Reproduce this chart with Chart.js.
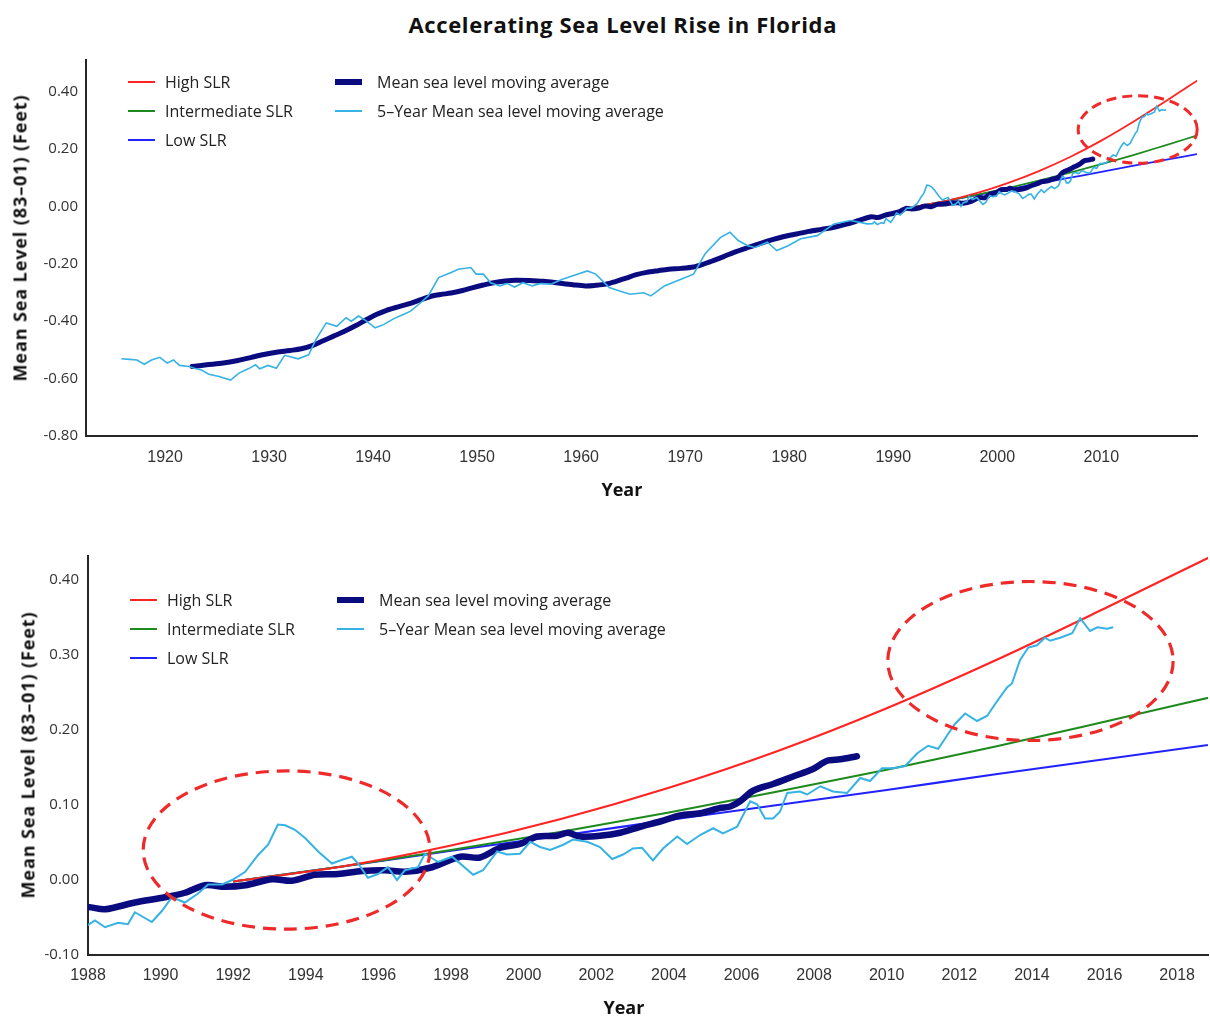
<!DOCTYPE html>
<html>
<head>
<meta charset="utf-8">
<script src="https://cdn.jsdelivr.net/npm/chart.js@4.4.1/dist/chart.umd.min.js"></script>
<style>
  html, body { margin:0; padding:0; background:#fff; }
  body { width:1210px; height:1017px; position:relative; overflow:hidden; font-family:'Open Sans', sans-serif; }
  .txt { position:absolute; white-space:nowrap; color:#111; }
  .wrap { position:absolute; left:0; width:1210px; }
  .lg-item { position:absolute; height:20px; white-space:nowrap; font-family:'Open Sans', sans-serif; font-size:16px; line-height:20px; color:#222; }
  .lg-sw { position:absolute; left:0; width:27px; }
  .lg-tx { position:absolute; top:0; }
</style>
</head>
<body>
<div class="wrap" style="top:40px;height:470px"><canvas id="c1" width="1210" height="470"></canvas></div>
<div class="wrap" style="top:520px;height:497px"><canvas id="c2" width="1210" height="497"></canvas></div>
<div id="texts"></div>
<div id="leg1"></div>
<div id="leg2"></div>
<script>
// ---------------- DATA ----------------
const chartTitle = 'Accelerating Sea Level Rise in Florida';
const xAxisTitle = 'Year';
const yAxisTitle = 'Mean Sea Level (83\u201301) (Feet)';
const seriesNames = ['High SLR', 'Intermediate SLR', 'Low SLR', 'Mean sea level moving average', '5\u2013Year Mean sea level moving average'];
const seriesColors = ['#ff2424', '#1e8a1e', '#2222ff', '#0b0b80', '#36b2e4'];

// Projection curves (year, feet)
const projYears = [1992, 1995, 1998, 2001, 2004, 2007, 2010, 2013, 2016, 2019.3];
const highSLR  = [-0.002, 0.018, 0.046, 0.081, 0.123, 0.172, 0.229, 0.293, 0.362, 0.440];
const interSLR = [-0.002, 0.018, 0.040, 0.064, 0.090, 0.118, 0.147, 0.178, 0.211, 0.248];
const lowSLR   = [-0.002, 0.018, 0.039, 0.059, 0.080, 0.100, 0.120, 0.141, 0.161, 0.183];

// Mean sea level moving average [year, feet]
const meanMA = [
  [1922.6,-0.558],[1924.0,-0.552],[1925.6,-0.546],[1927.0,-0.537],[1928.3,-0.526],[1929.5,-0.516],
  [1930.7,-0.508],[1932.0,-0.502],[1933.1,-0.496],[1934.2,-0.484],[1935.2,-0.468],[1936.2,-0.452],
  [1937.2,-0.436],[1938.3,-0.416],[1939.3,-0.396],[1940.3,-0.377],[1941.3,-0.362],[1942.4,-0.350],
  [1943.4,-0.340],[1944.5,-0.326],[1945.5,-0.314],[1946.5,-0.307],[1947.5,-0.302],[1948.6,-0.293],
  [1949.6,-0.283],[1950.6,-0.274],[1951.6,-0.266],[1952.7,-0.260],[1953.7,-0.257],[1955.0,-0.258],
  [1956.4,-0.261],[1958.0,-0.268],[1959.2,-0.273],[1960.4,-0.277],[1961.4,-0.275],[1962.4,-0.271],
  [1963.3,-0.262],[1964.3,-0.250],[1965.3,-0.238],[1966.3,-0.230],[1967.4,-0.224],[1968.4,-0.219],
  [1969.6,-0.216],[1970.8,-0.211],[1971.7,-0.202],[1972.7,-0.189],[1973.7,-0.175],[1974.7,-0.160],
  [1975.9,-0.145],[1977.1,-0.131],[1978.3,-0.117],[1979.5,-0.105],[1980.7,-0.096],[1981.9,-0.087],
  [1983.1,-0.080],[1984.3,-0.073],[1985.5,-0.062],[1986.7,-0.049],
  [1987.92,-0.036],[1988.47,-0.039],[1989.29,-0.030],[1990.12,-0.023],[1990.67,-0.017],[1991.22,-0.007],
  [1991.77,-0.009],[1992.33,-0.007],[1993.07,0.001],[1993.62,-0.001],[1994.25,0.007],[1994.89,0.008],
  [1995.55,0.012],[1996.18,0.013],[1996.73,0.011],[1997.48,0.017],[1998.25,0.031],[1998.80,0.030],
  [1999.35,0.043],[1999.90,0.048],[2000.37,0.058],[2000.92,0.059],[2001.22,0.063],[2001.55,0.058],
  [2002.10,0.059],[2002.66,0.063],[2003.21,0.071],[2003.76,0.078],[2004.31,0.086],[2004.86,0.089],
  [2005.41,0.096],[2005.69,0.098],[2005.96,0.105],[2006.32,0.119],[2006.87,0.128],[2007.42,0.138],
  [2007.97,0.148],[2008.36,0.159],[2008.72,0.161],[2009.18,0.165]
];

// 5-Year mean sea level moving average [year, feet]
const fiveYearMA = [
  [1915.8,-0.531],[1916.6,-0.533],[1917.3,-0.535],[1918.0,-0.550],[1918.7,-0.535],[1919.5,-0.526],
  [1920.2,-0.546],[1920.8,-0.535],[1921.4,-0.554],[1922.3,-0.558],[1922.8,-0.564],[1923.5,-0.570],
  [1924.2,-0.585],[1925.2,-0.593],[1926.3,-0.605],[1927.1,-0.581],[1928.0,-0.566],[1928.7,-0.552],
  [1929.1,-0.566],[1929.9,-0.554],[1930.7,-0.564],[1931.5,-0.519],[1932.8,-0.531],[1933.8,-0.517],
  [1934.5,-0.464],[1935.5,-0.406],[1936.5,-0.418],[1937.4,-0.388],[1937.9,-0.400],[1938.6,-0.382],
  [1939.3,-0.398],[1940.2,-0.423],[1941.0,-0.412],[1942.0,-0.391],[1942.9,-0.377],[1943.6,-0.365],
  [1944.4,-0.341],[1945.3,-0.312],[1946.3,-0.248],[1947.5,-0.230],[1948.2,-0.219],[1949.4,-0.213],
  [1949.9,-0.236],[1950.6,-0.236],[1951.3,-0.266],[1952.2,-0.277],[1952.9,-0.269],[1953.6,-0.281],
  [1954.4,-0.266],[1955.3,-0.277],[1956.1,-0.269],[1957.1,-0.271],[1958.2,-0.254],[1959.2,-0.242],
  [1960.6,-0.225],[1961.4,-0.236],[1962.7,-0.283],[1963.7,-0.295],[1964.7,-0.306],[1966.0,-0.301],
  [1966.7,-0.312],[1968.0,-0.277],[1969.6,-0.254],[1970.8,-0.236],[1971.9,-0.166],[1973.4,-0.108],
  [1974.3,-0.090],[1975.1,-0.119],[1976.0,-0.137],[1976.7,-0.143],[1977.9,-0.125],[1978.8,-0.154],
  [1979.9,-0.137],[1981.1,-0.113],[1982.7,-0.102],[1984.3,-0.061],[1985.9,-0.049],[1987.5,-0.061],
  [1988.00,-0.060],[1988.19,-0.054],[1988.47,-0.063],[1988.83,-0.057],[1989.10,-0.059],[1989.29,-0.043],
  [1989.76,-0.056],[1990.04,-0.041],[1990.31,-0.023],[1990.67,-0.030],[1991.03,-0.018],[1991.31,-0.006],
  [1991.69,-0.006],[1991.97,0.000],[1992.33,0.011],[1992.68,0.033],[1992.96,0.047],[1993.23,0.074],
  [1993.43,0.073],[1993.70,0.067],[1993.98,0.056],[1994.34,0.038],[1994.72,0.022],[1995.00,0.027],
  [1995.27,0.031],[1995.44,0.022],[1995.71,0.003],[1995.99,0.008],[1996.26,0.017],[1996.51,0.000],
  [1996.73,0.013],[1997.09,0.017],[1997.28,0.035],[1997.64,0.024],[1998.03,0.031],[1998.61,0.007],
  [1998.88,0.013],[1999.27,0.038],[1999.54,0.034],[1999.90,0.035],[2000.18,0.051],[2000.45,0.044],
  [2000.73,0.040],[2001.09,0.047],[2001.36,0.054],[2001.75,0.051],[2002.10,0.044],[2002.44,0.028],
  [2002.74,0.034],[2003.01,0.042],[2003.26,0.043],[2003.56,0.026],[2003.84,0.042],[2004.23,0.058],
  [2004.50,0.048],[2004.86,0.060],[2005.22,0.069],[2005.49,0.062],[2005.88,0.071],[2006.24,0.105],
  [2006.43,0.101],[2006.65,0.082],[2006.87,0.082],[2007.06,0.091],[2007.26,0.116],[2007.61,0.118],
  [2007.81,0.114],[2008.17,0.125],[2008.52,0.118],[2008.91,0.116],[2009.27,0.136],[2009.54,0.132],
  [2009.87,0.149],[2010.18,0.149],[2010.51,0.152],[2010.84,0.169],[2011.14,0.179],[2011.42,0.175],
  [2011.75,0.199],[2011.88,0.208],[2012.16,0.222],[2012.49,0.212],[2012.77,0.219],[2012.99,0.235],
  [2013.32,0.257],[2013.45,0.262],[2013.67,0.293],[2013.90,0.310],[2014.14,0.313],[2014.36,0.323],
  [2014.50,0.319],[2014.78,0.323],[2015.11,0.329],[2015.33,0.349],[2015.60,0.332],[2015.80,0.337],
  [2016.07,0.335],[2016.24,0.337]
];

// Tick labels
const topXTicks = [1920, 1930, 1940, 1950, 1960, 1970, 1980, 1990, 2000, 2010];
const topYTicks = [-0.8, -0.6, -0.4, -0.2, 0, 0.2, 0.4];
const botXTicks = [1988, 1990, 1992, 1994, 1996, 1998, 2000, 2002, 2004, 2006, 2008, 2010, 2012, 2014, 2016, 2018];
const botYTicks = [-0.1, 0, 0.1, 0.2, 0.3, 0.4];

// Highlight ellipses (centre year, centre feet, half-width years, half-height feet)
const topEllipses = [[2013.5, 0.268, 5.72, 0.1175]];
const botEllipses = [[1993.47, 0.040, 3.95, 0.1055], [2013.96, 0.292, 3.93, 0.106]];

// ---------------- CHART ----------------
const pairsToPts = arr => arr.map(p => ({ x: p[0], y: p[1] }));
const projPts = vals => projYears.map((yr, i) => ({ x: yr, y: vals[i] }));

function datasets(w) {
  return [
    { label: seriesNames[4], data: pairsToPts(fiveYearMA), borderColor: seriesColors[4], borderWidth: w.light, pointRadius: 0, tension: 0, order: 0 },
    { label: seriesNames[3], data: pairsToPts(meanMA), borderColor: seriesColors[3], borderWidth: w.dark, pointRadius: 0, tension: 0.3, borderCapStyle: 'round', borderJoinStyle: 'round', order: 1 },
    { label: seriesNames[0], data: projPts(highSLR), borderColor: seriesColors[0], borderWidth: w.proj, pointRadius: 0, cubicInterpolationMode: 'monotone', order: 2 },
    { label: seriesNames[1], data: projPts(interSLR), borderColor: seriesColors[1], borderWidth: w.proj, pointRadius: 0, cubicInterpolationMode: 'monotone', order: 3 },
    { label: seriesNames[2], data: projPts(lowSLR), borderColor: seriesColors[2], borderWidth: w.proj, pointRadius: 0, cubicInterpolationMode: 'monotone', order: 4 }
  ];
}

const ellipsePlugin = {
  id: 'ellipses',
  afterDatasetsDraw(chart, args, opts) {
    const { ctx } = chart;
    const xs = chart.scales.x, ys = chart.scales.y;
    (opts.items || []).forEach(e => {
      const cx = xs.getPixelForValue(e[0]);
      const cy = ys.getPixelForValue(e[1]);
      const rx = Math.abs(xs.getPixelForValue(e[0] + e[2]) - cx);
      const ry = Math.abs(ys.getPixelForValue(e[1] + e[3]) - cy);
      ctx.save();
      ctx.beginPath();
      ctx.setLineDash(opts.dash);
      ctx.lineWidth = opts.width;
      ctx.strokeStyle = opts.color;
      ctx.ellipse(cx, cy, rx, ry, 0, 0, Math.PI * 2);
      ctx.stroke();
      ctx.restore();
    });
  }
};

function options(o) {
  return {
    responsive: false,
    animation: false,
    layout: { padding: { top: o.padTop, right: o.padRight, bottom: 0, left: 0 } },
    plugins: {
      legend: { display: false },
      tooltip: { enabled: false },
      ellipses: { items: o.ellipses, dash: o.dash, width: o.ew, color: '#ee2a2a' }
    },
    scales: {
      x: {
        type: 'linear', min: o.xmin, max: o.xmax,
        afterBuildTicks: s => { s.ticks = o.xticks.map(v => ({ value: v })); },
        afterFit: s => { s.height = o.xh; },
        grid: { display: false, drawTicks: false },
        border: { display: true, color: '#262626', width: 2 },
        ticks: {
          autoSkip: false, maxRotation: 0, padding: o.xtp, color: '#333',
          font: { family: "'Liberation Sans', Arial, sans-serif", size: 16 },
          callback: v => String(v)
        },
        title: { display: false }
      },
      y: {
        type: 'linear', min: o.ymin, max: o.ymax,
        afterBuildTicks: s => { s.ticks = o.yticks.map(v => ({ value: v })); },
        afterFit: s => { s.width = o.yw; },
        grid: { display: false, drawTicks: false },
        border: { display: true, color: '#262626', width: 2 },
        ticks: {
          autoSkip: false, padding: o.ytp, color: '#333',
          font: { family: "'Open Sans', sans-serif", size: 15 },
          callback: v => Number(v).toFixed(2)
        },
        title: { display: false }
      }
    }
  };
}

new Chart(document.getElementById('c1'), {
  type: 'line',
  data: { datasets: datasets({ light: 1.6, dark: 5, proj: 1.8 }) },
  options: options({
    padTop: 20, padRight: 13, xh: 74, xtp: 12, yw: 86, ytp: 8,
    xmin: 1912.4, xmax: 2019.2, ymin: -0.8, ymax: 0.51,
    xticks: topXTicks, yticks: topYTicks,
    ellipses: topEllipses, dash: [10, 6], ew: 3
  }),
  plugins: [ellipsePlugin]
});

new Chart(document.getElementById('c2'), {
  type: 'line',
  data: { datasets: datasets({ light: 2, dark: 6.5, proj: 2.2 }) },
  options: options({
    padTop: 36, padRight: 2, xh: 62, xtp: 11, yw: 88, ytp: 9,
    xmin: 1988, xmax: 2018.85, ymin: -0.1, ymax: 0.432,
    xticks: botXTicks, yticks: botYTicks,
    ellipses: botEllipses, dash: [13, 8], ew: 3.2
  }),
  plugins: [ellipsePlugin]
});

// ---------------- TEXT (titles, fitted with letter spacing) ----------------
const measureCtx = document.createElement('canvas').getContext('2d');
function fitSpacing(text, font, target) {
  measureCtx.font = font;
  const w = measureCtx.measureText(text).width;
  return Math.max(0, (target - w) / Math.max(1, text.length - 1));
}
function placeText(text, font, target, cx, cy, rot) {
  const d = document.createElement('div');
  d.className = 'txt';
  d.textContent = text;
  d.style.font = font;
  d.style.lineHeight = '1';
  d.style.letterSpacing = fitSpacing(text, font, target).toFixed(2) + 'px';
  document.getElementById('texts').appendChild(d);
  const w = d.offsetWidth, h = d.offsetHeight;
  d.style.left = (cx - w / 2) + 'px';
  d.style.top = (cy - h / 2) + 'px';
  if (rot) d.style.transform = 'rotate(' + rot + 'deg)';
  return d;
}
const TF = "bold 22px 'Open Sans'";
const AF = "bold 18px 'Open Sans'";
placeText(chartTitle, TF, 428, 623, 24, 0);
placeText(yAxisTitle, AF, 286, 19, 238, -90);
placeText(yAxisTitle, AF, 286, 27, 755, -90);
placeText(xAxisTitle, AF, 40, 622, 489, 0);
placeText(xAxisTitle, AF, 40, 624, 1007, 0);

// ---------------- LEGENDS (HTML) ----------------
const legendOrder = [0, 1, 2, 3, 4];
const swatchH = [2.5, 2.5, 2.5, 6, 2.5];
function buildLegend(id, x0, x1, y0, gap) {
  const host = document.getElementById(id);
  legendOrder.forEach((si, k) => {
    const col = k < 3 ? 0 : 1;
    const row = k < 3 ? k : k - 3;
    const item = document.createElement('div');
    item.className = 'lg-item';
    item.style.left = (col === 0 ? x0 : x1) + 'px';
    item.style.top = (y0 + row * gap - 10) + 'px';
    const sw = document.createElement('div');
    sw.className = 'lg-sw';
    sw.style.background = seriesColors[si];
    sw.style.height = swatchH[si] + 'px';
    sw.style.top = (10 - swatchH[si] / 2) + 'px';
    const tx = document.createElement('div');
    tx.className = 'lg-tx';
    tx.style.left = (col === 0 ? 37 : 42) + 'px';
    tx.textContent = seriesNames[si];
    item.appendChild(sw);
    item.appendChild(tx);
    host.appendChild(item);
  });
}
buildLegend('leg1', 128, 335, 82, 29);
buildLegend('leg2', 130, 337, 600, 29);
</script>
</body>
</html>
